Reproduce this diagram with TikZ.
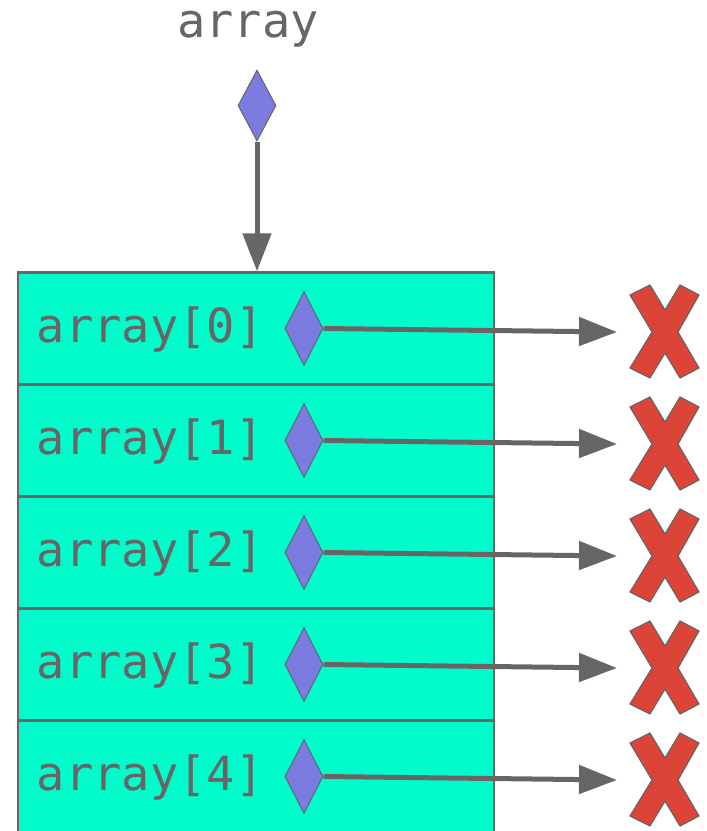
\documentclass[tikz,border=0pt]{standalone}
\usepackage{fontspec}
\setmonofont{DejaVu Sans Mono}
\usepackage{tikz}
\usetikzlibrary{positioning}
\usetikzlibrary{shapes.geometric}
\usetikzlibrary{arrows.meta}

\definecolor{linegray}{HTML}{666666}
\definecolor{cellteal}{HTML}{00FCCA}
\definecolor{ptrblue}{HTML}{7B7BE0}
\definecolor{crossred}{HTML}{DB4437}

\begin{document}
\begin{tikzpicture}[
        x = 1pt, y = -1pt,
        cell/.style = {
            draw = linegray,
            fill = cellteal,
            rectangle,
            line width = 2.5pt,
            minimum width = 476pt,
            minimum height = 112pt,
            inner sep = 0pt
        },
        celltext/.style = {
            anchor = base west,
            inner sep = 0pt,
            text = linegray,
            font = \ttfamily\fontsize{47}{50}\selectfont
        },
        ptr/.style = {
            draw = linegray,
            fill = ptrblue,
            diamond,
            line width = 1pt,
            minimum width = 38pt,
            minimum height = #1,
            inner sep = 0pt
        },
        ptr/.default = 74pt,
        link/.style = {
            draw = linegray,
            line width = 5pt,
            -{Triangle[length=38pt, width=28pt]}
        },
        redcross/.pic = {
            \draw[linegray, fill=crossred, line width=1.2pt, line join=round]
                (-35,-37) -- (-15,-47) -- (0,-22) -- (15,-47) -- (34,-37) -- (13,0)
                -- (34,36) -- (15,46) -- (0,21) -- (-15,46) -- (-35,36) -- (-13,0) -- cycle;
        }
        ]
        \useasboundingbox (0,0) rectangle (707,831);
%
        \node[celltext, anchor=base] (name) at (248,37) {array};
        \node[ptr=71pt] (p) at (257,105.5) {};
%
        \node[cell] (c0) at (256,328.5) {};
        \node[cell] (c1) at (256,440.5) {};
        \node[cell] (c2) at (256,552.5) {};
        \node[cell] (c3) at (256,664.5) {};
        \node[cell] (c4) at (256,776.5) {};
%
        \draw[link] (p) -- (c0.north -| p);
%
        \node[celltext] (t0) at ([xshift=20pt, yshift=-14pt]c0.west) {array[0]};
        \node[celltext] (t1) at ([xshift=20pt, yshift=-14pt]c1.west) {array[1]};
        \node[celltext] (t2) at ([xshift=20pt, yshift=-14pt]c2.west) {array[2]};
        \node[celltext] (t3) at ([xshift=20pt, yshift=-14pt]c3.west) {array[3]};
        \node[celltext] (t4) at ([xshift=20pt, yshift=-14pt]c4.west) {array[4]};
%
        \node[ptr] (d0) at (304,328.5) {};
        \node[ptr] (d1) at (304,440.5) {};
        \node[ptr] (d2) at (304,552.5) {};
        \node[ptr] (d3) at (304,664.5) {};
        \node[ptr] (d4) at (304,776.5) {};
%
        \coordinate (x0) at (665,332);
        \coordinate (x1) at (665,444);
        \coordinate (x2) at (665,556);
        \coordinate (x3) at (665,668);
        \coordinate (x4) at (665,780);
%
        \coordinate[left=48pt of x0] (tip0);
        \coordinate[left=48pt of x1] (tip1);
        \coordinate[left=48pt of x2] (tip2);
        \coordinate[left=48pt of x3] (tip3);
        \coordinate[left=48pt of x4] (tip4);
%
        \draw[link] (d0.east) -- (tip0);
        \draw[link] (d1.east) -- (tip1);
        \draw[link] (d2.east) -- (tip2);
        \draw[link] (d3.east) -- (tip3);
        \draw[link] (d4.east) -- (tip4);
%
        \pic at (x0) {redcross};
        \pic at (x1) {redcross};
        \pic at (x2) {redcross};
        \pic at (x3) {redcross};
        \pic at (x4) {redcross};
\end{tikzpicture}
\end{document}
